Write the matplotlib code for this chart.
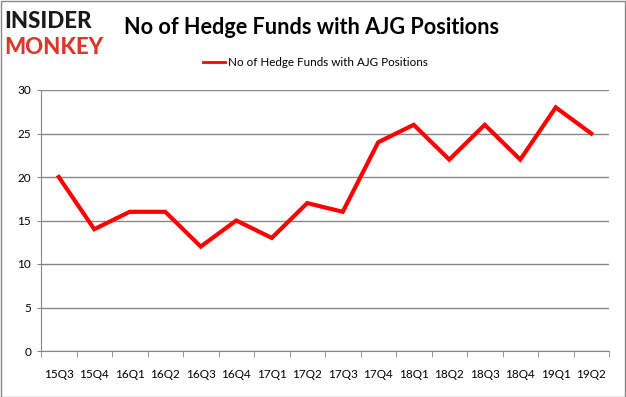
import matplotlib.pyplot as plt
from matplotlib.patches import Rectangle
from matplotlib.lines import Line2D
import numpy as np

quarters = ["15Q3", "15Q4", "16Q1", "16Q2", "16Q3", "16Q4", "17Q1", "17Q2",
            "17Q3", "17Q4", "18Q1", "18Q2", "18Q3", "18Q4", "19Q1", "19Q2"]
funds = [20, 14, 16, 16, 12, 15, 13, 17, 16, 24, 26, 22, 26, 22, 28, 25]
series_name = "No of Hedge Funds with AJG Positions"

plt.rcParams['font.family'] = ['Lato', 'DejaVu Sans']

fig = plt.figure(figsize=(6.26, 3.97), dpi=100)
ax = fig.add_axes([41 / 626, 46 / 397, 568 / 626, 261 / 397])

x = np.arange(len(quarters))
ax.plot(x, funds, color='#ff0000', lw=3, solid_joinstyle='miter')

grid_c = '#868686'
ax.set_xlim(-0.5, len(quarters) - 0.5)
ax.set_ylim(0, 30)
ax.set_yticks(range(0, 31, 5))
ax.yaxis.grid(True, color=grid_c, lw=1)
ax.set_axisbelow(True)
ax.set_xticks(x)
ax.set_xticklabels(quarters, fontsize=8.5)
ax.set_xticks(np.arange(-0.5, len(quarters), 1), minor=True)
ax.tick_params(axis='x', which='major', length=0, pad=13)
ax.tick_params(axis='x', which='minor', length=4, color=grid_c)
ax.tick_params(axis='y', length=3, color=grid_c, labelsize=8.5, pad=4)
for s in ['top', 'right']:
    ax.spines[s].set_visible(False)
for s in ['left', 'bottom']:
    ax.spines[s].set_color(grid_c)

handle = Line2D([], [], color='#ff0000', lw=2)
fig.legend([handle], [series_name], loc='center left',
           bbox_to_anchor=(192 / 626, 1 - 63 / 397), frameon=False,
           fontsize=8.4, handlelength=1.9, handletextpad=0.3)

fig.text(124 / 626, 1 - 28 / 397, "No of Hedge Funds with AJG Positions",
         fontsize=15.6, fontweight='bold', va='center', ha='left')
fig.text(4 / 626, 1 - 22 / 397, "INSIDER", fontsize=16, fontweight='black',
         color='#1a1a1a', va='center', ha='left')
fig.text(4 / 626, 1 - 48 / 397, "MONKEY", fontsize=16, fontweight='black',
         color='#d9392b', va='center', ha='left')

fig.patches.append(Rectangle((0.5 / 626, 0.5 / 397), 1 - 1.5 / 626, 1 - 1.5 / 397,
                             transform=fig.transFigure, fill=False,
                             edgecolor='#868686', lw=1))

fig.savefig('out.png', dpi=100)
